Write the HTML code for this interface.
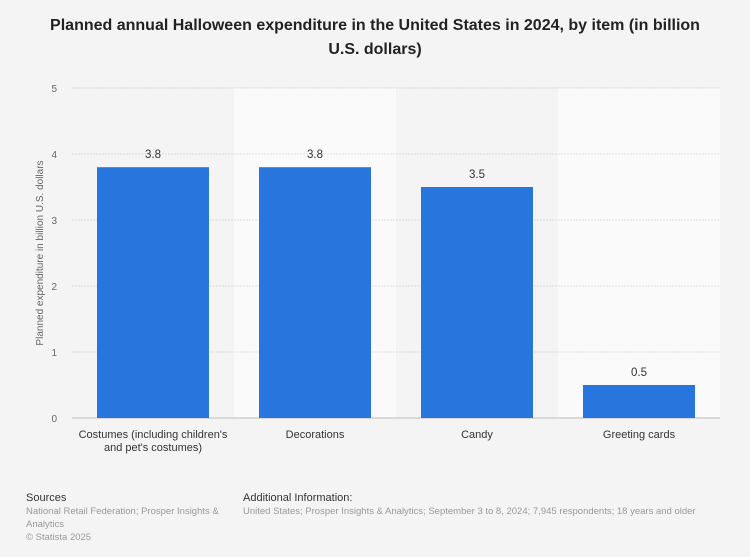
<!DOCTYPE html>
<html><head><meta charset="utf-8"><style>
body{margin:0;width:750px;height:557px;background:#f4f4f4;font-family:"Liberation Sans",sans-serif;overflow:hidden;position:relative}
#title{position:absolute;left:0;top:14px;width:750px;text-align:center;font-weight:bold;font-size:16px;line-height:24px;color:#222}
.ft{position:absolute;font-size:9.5px;color:#999;line-height:13px}
.ft b{font-weight:normal;color:#333;font-size:11px}
</style></head><body>
<div id="title">Planned annual Halloween expenditure in the United States in 2024, by item (in billion<br>U.S. dollars)</div>
<svg id="chart" width="750" height="557" style="position:absolute;left:0;top:0"></svg>
<div class="ft" style="left:26px;top:492px"><b>Sources</b><br>National Retail Federation; Prosper Insights &amp;<br>Analytics<br>© Statista 2025</div>
<div class="ft" style="left:243px;top:492px"><b>Additional Information:</b><br>United States; Prosper Insights &amp; Analytics; September 3 to 8, 2024; 7,945 respondents; 18 years and older</div>
<script>
const categories=[["Costumes (including children's","and pet's costumes)"],["Decorations"],["Candy"],["Greeting cards"]];
const values=[3.8,3.8,3.5,0.5];
const valueLabels=["3.8","3.8","3.5","0.5"];
const ticks=[0,1,2,3,4,5];
const svg=document.getElementById('chart');
const NS='http://www.w3.org/2000/svg';
const x0=72,x1=720,y0=418,y1=88,maxV=5;
const bw=(x1-x0)/categories.length;
const y=v=>y0-(v/maxV)*(y0-y1);
const x=i=>x0+i*bw;
function mk(t,a){const e=document.createElementNS(NS,t);for(const k in a)e.setAttribute(k,a[k]);svg.appendChild(e);return e;}
categories.forEach((c,i)=>{if(i%2==1){const r=mk('rect',{x:x(i),y:y1,width:bw,height:y0-y1,fill:'#fafafa'});

}});
ticks.forEach(t=>{const l=mk('line',{x1:x0,x2:x1,y1:y(t),y2:y(t),stroke:t==0?'#bbb':'#ddd','stroke-dasharray':t==0?'':'2,1'});


const tx=mk('text',{x:57,y:y(t)+4,'font-size':'10','fill':'#666','text-anchor':'end'});tx.textContent=t;

});
const yt=mk('text',{transform:'translate(43,253) rotate(-90)','font-size':'10','fill':'#666','text-anchor':'middle'});
yt.textContent='Planned expenditure in billion U.S. dollars';


values.forEach((v,i)=>{const cx=x(i)+bw/2;
const r=mk('rect',{x:cx-56,y:y(v),width:112,height:y0-y(v),fill:'#2876dd'});


const t=mk('text',{x:cx,y:y(v)-9,'font-size':'11.5','fill':'#333','text-anchor':'middle'});t.textContent=valueLabels[i];


categories[i].forEach((s,j)=>{const c=mk('text',{x:cx,y:438+j*13,'font-size':'11','fill':'#333','text-anchor':'middle'});c.textContent=s;

});});
</script>
</body></html>
